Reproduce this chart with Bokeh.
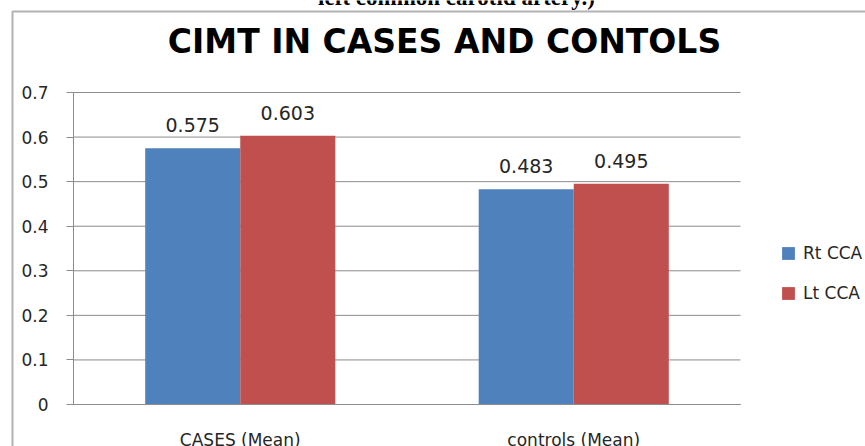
from bokeh.plotting import figure
from bokeh.models import (ColumnDataSource, FixedTicker, Label, Legend, LegendItem,
                          BoxAnnotation, Range1d)
from bokeh.transform import dodge
from bokeh.embed import file_html
from bokeh.resources import INLINE
from bokeh.core.properties import value

# ---- data ----
categories = ["CASES (Mean)", "controls (Mean)"]
series_names = ["Rt CCA", "Lt CCA"]
rt_cca = [0.575, 0.483]
lt_cca = [0.603, 0.495]
y_ticks = [0, 0.1, 0.2, 0.3, 0.4, 0.5, 0.6, 0.7]
y_tick_labels = ["0", "0.1", "0.2", "0.3", "0.4", "0.5", "0.6", "0.7"]
title_text = "CIMT IN CASES AND CONTOLS"
caption_text = "left common carotid artery.)"

BLUE = "#4F81BD"
RED = "#C0504D"
GRID = "#8C8C8C"
TXT = "#262626"
FONT = "DejaVu Sans"

W, H = 865, 446
# plot area (pixels) inside the canvas
PL, PR, PT, PB = 73, 740, 92, 404
n = len(categories)
ymax = y_ticks[-1]
kx = (PR - PL) / n
ky = (PB - PT) / ymax

x_pos = [i + 0.5 for i in range(n)]
source = ColumnDataSource(dict(x=x_pos, cat=categories, rt=rt_cca, lt=lt_cca,
                               rt_txt=[f"{v:.3f}" for v in rt_cca],
                               lt_txt=[f"{v:.3f}" for v in lt_cca]))

p = figure(width=W, height=H, title=None,
           x_range=Range1d(-PL / kx, (W - PL) / kx),
           y_range=Range1d(-(H - PB) / ky, ymax + PT / ky),
           output_backend="svg", toolbar_location=None,
           min_border_left=0, min_border_right=0, min_border_top=0, min_border_bottom=0)
p.outline_line_color = None
p.background_fill_color = "white"
p.border_fill_color = "white"
p.xgrid.grid_line_color = None
p.ygrid.grid_line_color = None

# horizontal gridlines across the plot area
p.segment(x0=[0] * len(y_ticks), x1=[n] * len(y_ticks), y0=y_ticks, y1=y_ticks,
          line_color=GRID, line_width=1)

bw = 0.285
off = bw / 2
r1 = p.vbar(x=dodge("x", -off), top="rt", width=bw, source=source,
            fill_color=BLUE, line_color=None)
r2 = p.vbar(x=dodge("x", off), top="lt", width=bw, source=source,
            fill_color=RED, line_color=None)

# data labels
for xcol, ycol, tcol in ((-off, "rt", "rt_txt"), (off, "lt", "lt_txt")):
    p.text(x=dodge("x", xcol), y=ycol, text=tcol, source=source,
           text_align="center", text_baseline="alphabetic", y_offset=-23,
           text_font=value(FONT), text_font_size="19px", text_color=TXT)

# y axis
p.yaxis.fixed_location = 0
p.yaxis.bounds = (0, ymax)
p.yaxis.ticker = FixedTicker(ticks=y_ticks)
p.yaxis.major_label_overrides = {t: l for t, l in zip(y_ticks, y_tick_labels)}
p.yaxis.major_label_text_font = FONT
p.yaxis.major_label_text_font_size = "17px"
p.yaxis.major_label_text_color = TXT
p.yaxis.major_label_standoff = 18
p.yaxis.major_tick_out = 7
p.yaxis.major_tick_in = 0
p.yaxis.minor_tick_line_color = None
p.yaxis.major_tick_line_color = GRID
p.yaxis.axis_line_color = GRID

# x axis
p.xaxis.fixed_location = 0
p.xaxis.bounds = (0, n)
p.xaxis.ticker = FixedTicker(ticks=x_pos)
p.xaxis.major_label_overrides = {x: c for x, c in zip(x_pos, categories)}
p.xaxis.major_label_text_font = FONT
p.xaxis.major_label_text_font_size = "17px"
p.xaxis.major_label_text_color = TXT
p.xaxis.major_label_standoff = 19
p.xaxis.major_tick_line_color = None
p.xaxis.minor_tick_line_color = None
p.xaxis.axis_line_color = GRID

# title
p.add_layout(Label(x=444, y=H - 41, x_units="screen", y_units="screen", text=title_text,
                   text_align="center", text_baseline="alphabetic",
                   text_font=FONT, text_font_style="bold", text_font_size="33px",
                   text_color="black"))
# cropped caption of the surrounding document
p.add_layout(Label(x=456, y=H + 3, x_units="screen", y_units="screen", text=caption_text,
                   text_align="center", text_baseline="alphabetic",
                   text_font="Liberation Serif", text_font_style="bold",
                   text_font_size="23px", text_color="black"))

# outer chart border (cropped)
p.add_layout(BoxAnnotation(left=12, right=W + 50, top=H - 11, bottom=-50,
                           left_units="screen", right_units="screen",
                           top_units="screen", bottom_units="screen",
                           fill_color=None, fill_alpha=0, line_color="black", line_width=2))

# legend
legend = Legend(items=[LegendItem(label=series_names[0], renderers=[r1]),
                       LegendItem(label=series_names[1], renderers=[r2])],
                location=(780, H - 302.5), orientation="vertical",
                glyph_width=16, glyph_height=16, label_standoff=7, spacing=20,
                padding=0, margin=0, border_line_color=None, background_fill_alpha=0,
                label_text_font=FONT, label_text_font_size="17px",
                label_text_color=TXT, label_height=20)
p.add_layout(legend)

open("out.html", "w").write(file_html(p, INLINE))
